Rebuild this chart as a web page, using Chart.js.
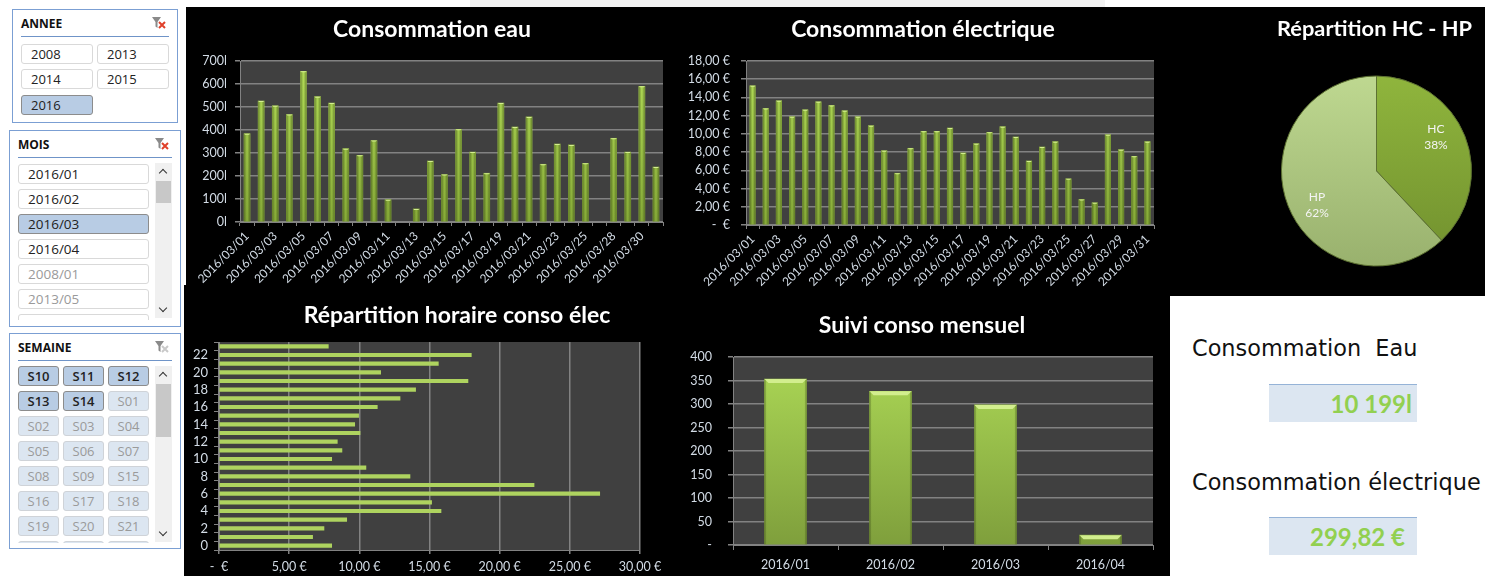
<!DOCTYPE html>
<html lang="fr">
<head>
<meta charset="utf-8">
<title>Tableau de bord consommation</title>
<script src="https://cdn.jsdelivr.net/npm/chart.js@4"></script>
<style>
  html, body { margin: 0; padding: 0; background: #fff; }
  body { position: relative; width: 1485px; height: 576px; overflow: hidden; font-family: "Open Sans", sans-serif; }
  .noir { position: absolute; background: #000; }
  #haut { left: 186px; top: 7px; width: 1299px; height: 289px; }
  #bas { left: 184px; top: 285px; width: 986px; height: 291px; }
  #reflet { position: absolute; left: 470px; top: 0; width: 635px; height: 7px; background: #f3f3f3; }
  canvas { position: absolute; }

  .slicer { position: absolute; box-sizing: border-box; border: 1.5px solid #7b9fd3; background: #fff; }
  #annee { left: 12px; top: 9px; width: 166px; height: 114px; }
  #mois { left: 9px; top: 130px; width: 172px; height: 197px; }
  #semaine { left: 9px; top: 333px; width: 172px; height: 216px; }
  .slicer h4 { position: absolute; margin: 0; font: bold 12px "Open Sans", sans-serif; color: #111; left: 8px; top: 5px; }
  .slicer .trait { position: absolute; left: 8px; right: 8px; top: 26px; height: 1px; background: #6f94c8; }
  .slicer svg { position: absolute; right: 10px; top: 6px; }
  .items { position: absolute; left: 8px; top: 32px; overflow: hidden; display: grid; }
  #annee .items { top: 33.5px; width: 150px; grid-template-columns: 72px 72px; column-gap: 4px; row-gap: 4.5px; height: 72px; }
  #mois .items { top: 33px; width: 131px; grid-template-columns: 131px; row-gap: 5px; height: 156px; }
  #semaine .items { width: 131px; grid-template-columns: 41px 41px 41px; column-gap: 4px; row-gap: 5px; height: 177px; }
  .items div { box-sizing: border-box; height: 20px; line-height: 18px; border: 1px solid #d9d9d9; border-radius: 3px; font-size: 13px; color: #222; padding-left: 9px; background: #fff; }
  #mois .items div { font-size: 13.5px; }
  .items div.sel { background: #b8cce4; border-color: #8c8c8c; }
  .items div.off { color: #9a9a9a; }
  #semaine .items div { padding-left: 0; text-align: center; font-weight: 600; }
  #semaine .items div.off { background: #dce6f1; border-color: #cfd3d8; font-weight: 400; }
  .scroll { position: absolute; left: 145px; width: 17px; top: 32px; background: #f0f0f0; }
  #mois .scroll { height: 155px; }
  #semaine .scroll { height: 176px; }
  .scroll i { position: absolute; left: 1px; width: 15px; background: #c8c8c8; }
  #mois .scroll i { top: 18px; height: 22px; }
  #semaine .scroll i { top: 18px; height: 53px; }
  .scroll b { position: absolute; left: 5px; width: 5px; height: 5px; border-left: 1.5px solid #333; border-top: 1.5px solid #333; }
  .scroll b.up { top: 7px; transform: rotate(45deg); }
  .scroll b.down { bottom: 7px; transform: rotate(225deg); }

  #kpi { position: absolute; left: 1170px; top: 296px; width: 315px; height: 280px; background: #fff; }
  .kpi-label { position: absolute; left: 22px; font: 22.4px "DejaVu Sans", sans-serif; color: #111; white-space: pre; }
  .kpi-box { position: absolute; left: 99px; width: 148px; height: 38px; box-sizing: border-box; background: #dce6f1; border-top: 1px solid #95b3d7; font: bold 24px Lato, sans-serif; line-height: 38px; color: #92d050; text-align: right; }
</style>
</head>
<body>
<div id="reflet"></div>
<div class="noir" id="haut"></div>
<div class="noir" id="bas"></div>

<div class="slicer" id="annee"><h4>ANNEE</h4><div class="trait"></div><div class="items"></div></div>
<div class="slicer" id="mois"><h4>MOIS</h4><div class="trait"></div><div class="items"></div><div class="scroll"><b class="up"></b><i></i><b class="down"></b></div></div>
<div class="slicer" id="semaine"><h4>SEMAINE</h4><div class="trait"></div><div class="items"></div><div class="scroll"><b class="up"></b><i></i><b class="down"></b></div></div>

<canvas id="grafico-eau" width="492" height="288" style="left:186px;top:7px;width:492px;height:288px"></canvas>
<canvas id="grafico-elec" width="490" height="288" style="left:678px;top:7px;width:490px;height:288px"></canvas>
<canvas id="grafico-pie" width="217" height="289" style="left:1268px;top:7px;width:217px;height:289px"></canvas>
<canvas id="grafico-horaire" width="490" height="280" style="left:184px;top:296px;width:490px;height:280px"></canvas>
<canvas id="grafico-mensuel" width="496" height="280" style="left:674px;top:296px;width:496px;height:280px"></canvas>

<div id="kpi">
  <div class="kpi-label" style="top:39px">Consommation  Eau</div>
  <div class="kpi-box" style="top:88px;padding-right:5px">10 199l</div>
  <div class="kpi-label" style="top:173px">Consommation électrique</div>
  <div class="kpi-box" style="top:221px;padding-right:12px">299,82 €</div>
</div>

<script>
const joursEau = ['2016/03/01','2016/03/02','2016/03/03','2016/03/04','2016/03/05','2016/03/06','2016/03/07','2016/03/08','2016/03/09','2016/03/10','2016/03/11','2016/03/12','2016/03/13','2016/03/14','2016/03/15','2016/03/16','2016/03/17','2016/03/18','2016/03/19','2016/03/20','2016/03/21','2016/03/22','2016/03/23','2016/03/24','2016/03/25','2016/03/27','2016/03/28','2016/03/29','2016/03/30','2016/03/31'];
const valeursEau = [384,526,505,467,655,545,517,319,290,354,97,null,57,265,206,403,304,212,517,413,457,251,339,335,255,null,364,304,590,239];

const joursElec = ['2016/03/01','2016/03/02','2016/03/03','2016/03/04','2016/03/05','2016/03/06','2016/03/07','2016/03/08','2016/03/09','2016/03/10','2016/03/11','2016/03/12','2016/03/13','2016/03/14','2016/03/15','2016/03/16','2016/03/17','2016/03/18','2016/03/19','2016/03/20','2016/03/21','2016/03/22','2016/03/23','2016/03/24','2016/03/25','2016/03/26','2016/03/27','2016/03/28','2016/03/29','2016/03/30','2016/03/31'];
const valeursElec = [15.27,12.79,13.63,11.88,12.64,13.52,13.12,12.54,11.88,10.9,8.16,5.68,8.42,10.28,10.28,10.64,7.91,8.93,10.17,10.79,9.66,7.03,8.56,9.15,5.07,2.81,2.44,9.91,8.27,7.54,9.15];

const heures = ['0','1','2','3','4','5','6','7','8','9','10','11','12','13','14','15','16','17','18','19','20','21','22','23'];
const valeursHoraire = [8.03,6.67,7.48,9.1,15.82,15.15,27.13,22.45,13.61,10.47,8.03,8.76,8.43,10.05,9.67,9.95,11.28,12.9,14.01,17.74,11.52,15.63,17.98,7.79];

const mois = ['2016/01','2016/02','2016/03','2016/04'];
const valeursMois = [353,327,298,21];

const tranches = ['HC','HP'];
const partsTranches = [38,62];

const anneeItems = ['2008','2013','2014','2015','2016'];
const anneeSel = ['2016'];
const moisItems = ['2016/01','2016/02','2016/03','2016/04','2008/01','2013/05',''];
const moisSel = ['2016/03'];
const moisOff = ['2008/01','2013/05',''];
const semaineItems = ['S10','S11','S12','S13','S14','S01','S02','S03','S04','S05','S06','S07','S08','S09','S15','S16','S17','S18','S19','S20','S21','','',''];
const semaineSel = ['S10','S11','S12','S13','S14'];

const filtreIcon = couleur => `<svg width="16" height="14" viewBox="0 0 16 14"><path d="M1 1h9L6.5 6v6L4.5 10.5V6z" fill="#8a8a8a"/><path d="M8 6l6 6M14 6l-6 6" stroke="${couleur}" stroke-width="2"/></svg>`;

function remplirSlicer(id, items, sel, off, icone) {
    const bloc = document.getElementById(id);
    bloc.querySelector('h4').insertAdjacentHTML('afterend', icone);
    const liste = bloc.querySelector('.items');
    items.forEach(item => {
        const div = document.createElement('div');
        div.textContent = item;
        if (sel.includes(item)) div.className = 'sel';
        else if (off(item)) div.className = 'off';
        liste.appendChild(div);
    });
}

remplirSlicer('annee', anneeItems, anneeSel, () => false, filtreIcon('#e0402a'));
remplirSlicer('mois', moisItems, moisSel, item => moisOff.includes(item), filtreIcon('#e0402a'));
remplirSlicer('semaine', semaineItems, semaineSel, () => true, filtreIcon('#c9c9c9'));

const couleurTexte = '#d3dce6';
const couleurGrille = '#828282';
const fontTitre = { family: 'Lato', size: 23, weight: 'bold', lineHeight: 1.2 };
const policeAxe = { family: 'Lato', size: 12.5 };

// Fond gris de la zone de tracé
const fondPlugin = {
    id: 'fond',
    beforeDraw(chart) {
        if (chart.config.type === 'pie') return;
        const a = chart.chartArea;
        chart.ctx.save();
        chart.ctx.fillStyle = '#404040';
        chart.ctx.fillRect(a.left, a.top, a.right - a.left, a.bottom - a.top);
        chart.ctx.restore();
    }
};

// Place le titre au même endroit que sur le tableau de bord
const titreXPlugin = {
    id: 'titreX',
    afterLayout(chart, args, opts) {
        const t = chart.titleBlock;
        const demi = (t.right - t.left) / 2;
        t.left = opts.centre - demi;
        t.right = opts.centre + demi;
    }
};

// Effet biseau Excel sur les barres verticales
const biseauPlugin = {
    id: 'biseau',
    afterDatasetsDraw(chart, args, opts) {
        if (!opts.actif) return;
        const ctx = chart.ctx;
        chart.getDatasetMeta(0).data.forEach(bar => {
            const { x, y, base, width } = bar.getProps(['x', 'y', 'base', 'width'], true);
            if (!width || base - y < 1) return;
            const g = ctx.createLinearGradient(x - width / 2, 0, x + width / 2, 0);
            g.addColorStop(0, 'rgba(45,60,15,' + opts.ombre + ')');
            g.addColorStop(opts.bord, 'rgba(45,60,15,0)');
            g.addColorStop(1 - opts.bord, 'rgba(45,60,15,0)');
            g.addColorStop(1, 'rgba(45,60,15,' + opts.ombre + ')');
            ctx.save();
            ctx.fillStyle = g;
            ctx.fillRect(x - width / 2, y, width, base - y);
            ctx.fillStyle = opts.couleurHaut;
            ctx.beginPath();
            ctx.moveTo(x - width / 2, y);
            ctx.lineTo(x + width / 2, y);
            ctx.lineTo(x + width / 2 - opts.haut, y + opts.haut);
            ctx.lineTo(x - width / 2 + opts.haut, y + opts.haut);
            ctx.closePath();
            ctx.fill();
            ctx.restore();
        });
    }
};

function degradeVertical(ctx, haut, bas) {
    const area = ctx.chart.chartArea;
    if (!area) return bas;
    const g = ctx.chart.ctx.createLinearGradient(0, area.top, 0, area.bottom);
    g.addColorStop(0, haut);
    g.addColorStop(1, bas);
    return g;
}

// Réserve la place des axes pour caler la zone de tracé
function optionsTitre(texte, centre, hautTrace, taille) {
    const font = { ...fontTitre, size: taille || fontTitre.size };
    const hauteur = font.size * font.lineHeight;
    return {
        display: true,
        text: texte,
        color: '#ffffff',
        font: font,
        padding: { top: centre - hauteur / 2, bottom: hautTrace - centre - hauteur / 2 }
    };
}

function axeValeur(largeur, max, pas, format, retrait) {
    return {
        min: 0, max: max,
        ticks: { stepSize: pas, color: couleurTexte, font: policeAxe, padding: retrait, callback: format },
        grid: { color: couleurGrille, tickColor: couleurGrille, tickLength: 5, lineWidth: 1.5 },
        border: { color: couleurGrille },
        afterFit: s => { s.width = largeur; }
    };
}

function axeJours(hauteur) {
    return {
        offset: true,
        grid: { offset: true, drawOnChartArea: false, color: couleurGrille, tickLength: 4 },
        border: { color: couleurGrille },
        ticks: {
            autoSkip: false, minRotation: 45, maxRotation: 45, color: couleurTexte, font: { family: 'Lato', size: 12 }, padding: 3,
            callback(value, index) { return index % 2 === 0 ? this.getLabelForValue(value) : ''; }
        },
        afterFit: s => { s.height = hauteur; }
    };
}

const options = {
    responsive: false,
    animation: false,
    events: []
};

Chart.register(fondPlugin, biseauPlugin, titreXPlugin);

function graficoJours(id, labels, valeurs, titre, centreTitre, largeurAxe, hauteurAxe, hautTrace, droite, max, pas, format, retrait, epaisseur) {
    new Chart(document.getElementById(id), {
        type: 'bar',
        data: {
            labels: labels,
            datasets: [{
                data: valeurs,
                barThickness: epaisseur,
                backgroundColor: ctx => degradeVertical(ctx, '#b4de58', '#86aa38')
            }]
        },
        options: {
            ...options,
            layout: { padding: { right: droite } },
            scales: { x: axeJours(hauteurAxe), y: axeValeur(largeurAxe, max, pas, format, retrait) },
            plugins: {
                legend: { display: false },
                title: optionsTitre(titre, 23, hautTrace),
                titreX: { centre: centreTitre },
                biseau: { actif: true, bord: 0.45, ombre: 0.5, haut: 1, couleurHaut: '#d4ee90' }
            }
        }
    });
}

graficoJours('grafico-eau', joursEau, valeursEau, 'Consommation eau', 246, 54, 73, 54, 15, 700, 100, v => v + 'l', 8, 6);
graficoJours('grafico-elec', joursElec, valeursElec, 'Consommation électrique', 245, 68, 70, 54, 14, 18, 2,
    v => v === 0 ? '-  €' : v.toFixed(2).replace('.', ',') + ' €', 11, 5.5);

// Répartition horaire
new Chart(document.getElementById('grafico-horaire'), {
    type: 'bar',
    data: {
        labels: heures,
        datasets: [{ data: valeursHoraire, barThickness: 3.5, backgroundColor: '#aed35f' }]
    },
    options: {
        ...options,
        indexAxis: 'y',
        layout: { padding: { right: 34 } },
        scales: {
            x: {
                min: 0, max: 30,
                ticks: {
                    stepSize: 5, color: couleurTexte, font: { family: 'Lato', size: 12.5 }, padding: 5,
                    callback: v => v === 0 ? '-  €' : v.toFixed(2).replace('.', ',') + ' €'
                },
                grid: { color: couleurGrille, tickLength: 4, lineWidth: 1.5 },
                border: { color: couleurGrille },
                afterFit: s => { s.height = 26; }
            },
            y: {
                reverse: true,
                offset: true,
                grid: { offset: true, drawOnChartArea: false, color: couleurGrille, tickLength: 5 },
                border: { color: couleurGrille },
                ticks: {
                    autoSkip: false, color: couleurTexte, font: { family: 'Lato', size: 13 }, padding: 6,
                    callback(value, index) { return index % 2 === 0 ? this.getLabelForValue(value) : ''; }
                },
                afterFit: s => { s.width = 35; }
            }
        },
        plugins: {
            legend: { display: false },
            title: optionsTitre('Répartition horaire conso élec', 20, 46),
            titreX: { centre: 273 },
            biseau: { actif: false }
        }
    }
});

// Suivi mensuel
new Chart(document.getElementById('grafico-mensuel'), {
    type: 'bar',
    data: {
        labels: mois,
        datasets: [{
            data: valeursMois,
            barThickness: 42,
            backgroundColor: ctx => degradeVertical(ctx, '#acd856', '#7f9f3c')
        }]
    },
    options: {
        ...options,
        layout: { padding: { right: 17 } },
        scales: {
            x: {
                offset: true,
                grid: { offset: true, drawOnChartArea: false, color: couleurGrille, tickLength: 5 },
                border: { color: couleurGrille },
                ticks: { color: couleurTexte, font: policeAxe, padding: 7, maxRotation: 0 },
                afterFit: s => { s.height = 31; }
            },
            y: axeValeur(59, 400, 50, v => v === 0 ? '-' : v, 16)
        },
        plugins: {
            legend: { display: false },
            title: optionsTitre('Suivi conso mensuel', 30, 61),
            titreX: { centre: 248 },
            biseau: { actif: true, bord: 0.05, ombre: 0.5, haut: 4, couleurHaut: '#d2ee8e' }
        }
    }
});

// Libellés du camembert
const etiquettesPlugin = {
    id: 'etiquettes',
    afterDatasetsDraw(chart) {
        const ctx = chart.ctx;
        chart.getDatasetMeta(0).data.forEach((arc, i) => {
            const { x, y, startAngle, endAngle, outerRadius } = arc.getProps(['x', 'y', 'startAngle', 'endAngle', 'outerRadius'], true);
            const milieu = (startAngle + endAngle) / 2 - 0.14;
            const px = x + Math.cos(milieu) * outerRadius * 0.72;
            const py = y + Math.sin(milieu) * outerRadius * 0.72;
            ctx.save();
            ctx.fillStyle = '#f4f4f4';
            ctx.font = '12px Lato';
            ctx.textAlign = 'center';
            ctx.textBaseline = 'middle';
            ctx.fillText(tranches[i], px, py - 8);
            ctx.fillText(partsTranches[i] + '%', px, py + 8);
            ctx.restore();
        });
    }
};

new Chart(document.getElementById('grafico-pie'), {
    type: 'pie',
    data: {
        labels: tranches,
        datasets: [{
            data: partsTranches,
            radius: 95,
            borderColor: '#5d7132',
            borderWidth: 1,
            backgroundColor: ctx => ctx.dataIndex === 0
                ? degradeVertical(ctx, '#94bb3f', '#6c8a2c')
                : degradeVertical(ctx, '#c4de96', '#93ab68')
        }]
    },
    options: {
        ...options,
        plugins: {
            legend: { display: false },
            title: optionsTitre('Répartition HC - HP', 22, 39, 21.8),
            titreX: { centre: 106.5 },
            biseau: { actif: false }
        }
    },
    plugins: [etiquettesPlugin]
});
</script>
</body>
</html>
